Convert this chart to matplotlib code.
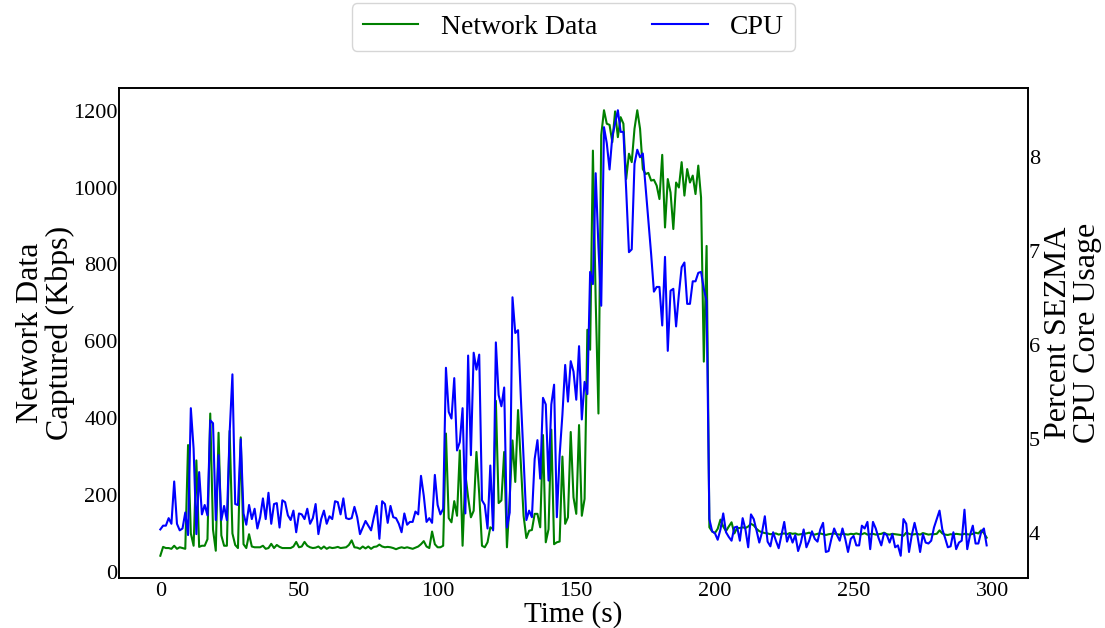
import matplotlib
matplotlib.use("Agg")
import matplotlib.pyplot as plt
import numpy as np

plt.rcParams["font.family"] = ["Liberation Serif", "DejaVu Serif"]

# Captured network throughput (Kbps), one sample per second
network_kbps = [
    42, 65, 62, 62, 60, 68, 60, 64, 62, 60, 330, 100, 68, 290, 65, 68, 68, 85, 412, 110,
    55, 362, 95, 68, 68, 367, 100, 70, 62, 350, 72, 62, 98, 66, 64, 64, 64, 68, 60, 62,
    73, 62, 70, 65, 62, 62, 62, 62, 66, 78, 64,
    66, 78, 68, 64, 62, 63, 66, 60, 66, 60, 64, 62, 63, 65, 62, 63, 64, 70, 82, 64,
    63, 60, 66, 61, 66, 60, 65, 66, 71, 66, 64, 65, 64, 62, 59, 62, 64, 62, 64, 62,
    60, 63, 66, 72, 80, 66, 62, 105, 72, 64, 64, 68,
    360, 140, 129, 184, 146, 316, 68, 255, 194, 142, 159, 312, 203, 68, 64, 77, 116, 111,
    445, 179, 186, 312, 64, 194, 342, 234, 421, 282, 146, 88, 107, 109, 151, 151, 116,
    356, 77, 111, 370, 72, 77, 79, 300, 125, 142,
    364, 194, 151, 382, 146, 190, 630, 578, 1096, 708, 412, 1136, 1201, 1166, 1163, 1118,
    1198, 1131, 1183, 1166, 1022, 1088, 1066, 1153, 1201, 1153, 1048, 1035, 1038, 1018,
    1020, 1005, 970, 1085, 896, 1022, 987, 892, 1013, 1000, 1066, 979, 1048, 1013, 1031,
    983, 1057, 974, 547, 848,
    116, 105, 101, 112, 136, 118, 106, 118, 129, 100, 114, 114, 116, 114, 118, 125, 121,
    112, 106, 103, 101, 100, 98, 99, 100, 97, 99, 100, 98, 101, 99, 100, 97, 98, 99, 100,
    102, 98, 97, 99, 100, 98, 96, 98, 99, 100, 98, 97, 99, 98, 97, 99, 98, 100, 98,
    98, 101, 97, 98, 99, 97, 98, 99, 102, 98, 97, 99, 98, 97, 96, 94, 102, 99, 97, 98,
    99, 97, 101, 99, 97, 98, 98, 99, 108, 100, 97, 96, 98, 97, 99, 98, 97, 99, 98, 97,
    99, 102, 100, 108, 101, 89,
]

# SEZMA CPU core usage (percent), same sampling
cpu_percent = [
    4.04, 4.08, 4.08, 4.16, 4.10, 4.55, 4.10, 4.03, 4.05, 4.22, 3.98, 5.33, 4.90, 3.99,
    4.65, 4.20, 4.30, 4.19, 5.20, 5.17, 4.14, 4.83, 4.14, 4.29, 4.14, 5.07, 5.69, 4.31,
    4.30, 5.00, 4.21, 4.09, 4.30, 4.15, 4.26, 4.05, 4.17, 4.37, 4.15, 4.43, 4.10, 4.31,
    4.32, 4.06, 4.35, 4.33, 4.19, 4.14, 4.24, 4.01, 4.21,
    4.20, 4.15, 4.26, 4.10, 4.16, 4.31, 3.99, 4.15, 4.24, 4.10, 4.18, 4.15, 4.34, 4.33,
    4.20, 4.37, 4.16, 4.15, 4.16, 4.28, 4.17, 3.99, 4.06, 4.13, 4.08, 4.03, 4.17, 4.29,
    3.94, 4.34, 4.31, 4.11, 4.29, 4.17, 4.16, 4.10, 4.01, 4.21, 4.09, 4.12, 4.12, 4.23,
    4.20, 4.61, 4.40, 4.12, 4.16, 4.11, 4.62, 4.30, 4.20, 4.26,
    5.76, 5.29, 5.22, 5.65, 4.88, 4.97, 5.33, 4.21, 5.89, 4.83, 5.92, 5.74, 5.90, 4.35,
    4.30, 4.05, 4.72, 4.03, 6.03, 5.47, 5.35, 5.55, 4.06, 4.22, 6.51, 6.13, 6.16, 5.45,
    4.80, 4.14, 4.24, 4.17, 4.79, 4.99, 4.58, 5.44, 5.37, 4.56, 5.37, 5.58, 4.17, 4.83,
    5.26, 5.79, 5.40,
    5.83, 5.72, 5.42, 5.99, 5.21, 5.61, 5.48, 6.78, 6.65, 7.83, 7.04, 6.42, 8.32, 8.15,
    7.87, 8.22, 8.36, 8.50, 8.27, 8.27, 7.65, 6.99, 7.02, 7.93, 8.08, 8.00, 8.04, 7.68,
    7.33, 6.97, 6.57, 6.62, 6.62, 6.21, 6.94, 5.94, 6.58, 6.60, 6.20, 6.54, 6.83, 6.88,
    6.44, 6.44, 6.68, 6.68, 6.77, 6.78, 6.60, 6.47,
    4.15, 4.02, 4.00, 3.93, 4.04, 4.21, 4.01, 3.96, 3.92, 4.06, 4.07, 3.92, 4.16, 4.04,
    3.85, 4.20, 4.15, 4.03, 3.90, 4.01, 4.18, 3.91, 3.86, 4.01, 3.92, 3.84, 3.98, 4.12,
    3.91, 3.99, 3.90, 3.98, 3.81, 3.90, 4.04, 3.85, 3.92, 4.02, 3.94, 3.91, 4.04, 4.11,
    3.80, 3.81, 3.94, 4.05, 3.98, 3.92, 4.05, 3.94, 3.80, 3.94, 3.97, 3.87, 3.87,
    4.08, 4.05, 4.12, 3.83, 4.12, 4.05, 3.95, 3.87, 4.00, 3.98, 3.90, 3.99, 3.85, 3.87,
    3.76, 4.15, 4.10, 3.80, 3.98, 4.11, 3.98, 3.80, 3.99, 3.90, 3.89, 3.92, 4.06, 4.15,
    4.24, 4.04, 3.95, 3.85, 3.86, 4.01, 3.83, 3.90, 3.92, 4.25, 3.83, 3.98, 4.08, 3.89,
    3.89, 4.01, 4.05, 3.87,
]

time_s = np.arange(len(network_kbps))

x_ticks = [0, 50, 100, 150, 200, 250, 300]
net_ticks = [0, 200, 400, 600, 800, 1000, 1200]
cpu_ticks = [4, 5, 6, 7, 8]

fig = plt.figure(figsize=(11.05, 6.28), dpi=100)
ax = fig.add_axes([0.1077, 0.0796, 0.8226, 0.7803])
ax2 = ax.twinx()

line_net, = ax.plot(time_s, network_kbps, color="green", lw=1.5, label="Network Data")
line_cpu, = ax2.plot(time_s, cpu_percent, color="blue", lw=1.5, label="CPU")

ax.set_xticks(x_ticks)
ax.set_yticks(net_ticks)
ax2.set_yticks(cpu_ticks)

ax.tick_params(axis="both", length=0, labelsize=16)
ax.tick_params(axis="y", pad=1)
ax.tick_params(axis="x", pad=3)
ax2.tick_params(axis="y", length=0, labelsize=16, pad=0.5)

for a in (ax, ax2):
    for s in a.spines.values():
        s.set_linewidth(1.2)

ax.set_xlabel("Time (s)", fontsize=21, labelpad=0)
ax.set_ylabel("Network Data\nCaptured (Kbps)", fontsize=23, labelpad=-1, linespacing=1.0)
ax2.set_ylabel("Percent SEZMA\nCPU Core Usage", fontsize=23, labelpad=3, linespacing=1.0)

ax.legend(handles=[line_net, line_cpu], loc="upper center", bbox_to_anchor=(0.5, 1.1735),
          ncol=2, fontsize=20, borderaxespad=0)

fig.savefig("out.png", dpi=100)
